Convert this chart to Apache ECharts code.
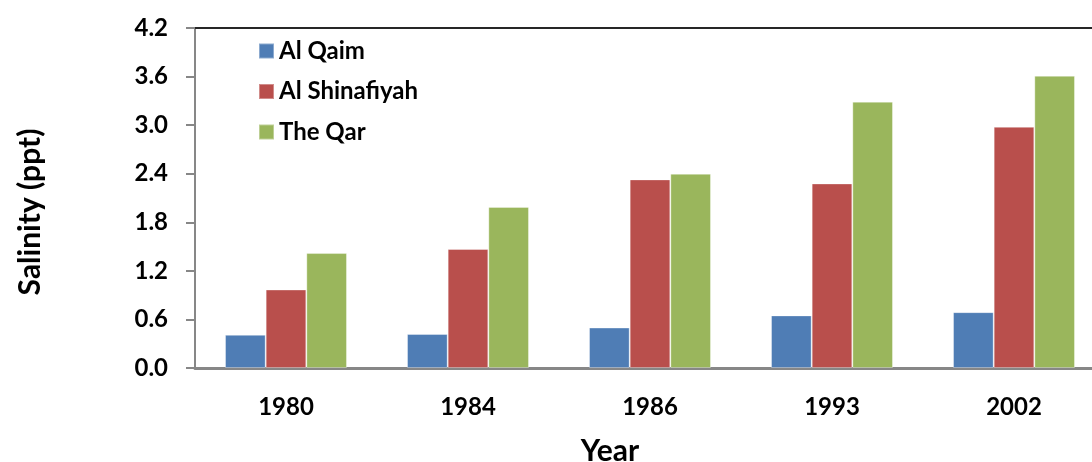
<!DOCTYPE html>
<html>
<head>
<meta charset="utf-8">
<script src="https://cdn.jsdelivr.net/npm/echarts@6/dist/echarts.min.js"></script>
<style>
  html, body { margin: 0; padding: 0; background: #fff; }
  #chart { width: 1092px; height: 462px; }
</style>
</head>
<body>
<div id="chart"></div>
<script>
const years = ['1980', '1984', '1986', '1993', '2002']
const alQaim = [0.41, 0.42, 0.50, 0.65, 0.69]
const alShinafiyah = [0.97, 1.47, 2.33, 2.28, 2.98]
const theQar = [1.42, 1.99, 2.40, 3.29, 3.61]
const yTicks = [0, 0.6, 1.2, 1.8, 2.4, 3.0, 3.6, 4.2]

const font = 'Lato, "Open Sans", sans-serif'
const chart = echarts.init(document.getElementById('chart'))

const bar = (name, data, color) => ({
  name, type: 'bar', data,
  barGap: '0%', barCategoryGap: '33%',
  itemStyle: { color, borderColor: 'rgba(255,255,255,0.35)', borderWidth: 1 }
})

chart.setOption({
  animation: false,
  textStyle: { fontFamily: font },
  grid: { left: 195, top: 28, width: 910, bottom: 94, outerBoundsMode: 'none' },
  legend: {
    orient: 'vertical', left: 253, top: 33,
    itemWidth: 15, itemHeight: 15, itemGap: 14.5,
    icon: 'rect',
    textStyle: { fontFamily: font, fontSize: 24, fontWeight: 'bold', color: '#000', lineHeight: 26 }
  },
  xAxis: [{
    type: 'category',
    data: years,
    name: 'Year',
    nameLocation: 'middle',
    nameGap: 68,
    nameTextStyle: { fontSize: 30, fontWeight: 'bold', color: '#000', padding: [0, 80, 0, 0] },
    axisLine: { lineStyle: { color: '#878787', width: 3 } },
    axisTick: { show: false },
    axisLabel: { fontSize: 24, fontWeight: 'bold', color: '#000', margin: 27 }
  }, {
    type: 'category',
    data: years,
    position: 'top',
    axisLine: { lineStyle: { color: '#262626', width: 2 } },
    axisTick: { show: false },
    axisLabel: { show: false }
  }],
  yAxis: {
    type: 'value',
    min: 0, max: 4.2, interval: 0.6,
    name: 'Salinity (ppt)',
    nameLocation: 'middle',
    nameGap: 150,
    nameTextStyle: { fontSize: 30, fontWeight: 'bold', color: '#000', padding: [0, 28, 0, 0] },
    axisLine: { show: true, lineStyle: { color: '#878787', width: 2 } },
    axisTick: { show: true, length: 9, lineStyle: { color: '#878787', width: 2 } },
    splitLine: { show: false },
    axisLabel: {
      fontSize: 24, fontWeight: 'bold', color: '#000', margin: 27,
      formatter: v => yTicks.includes(Math.round(v * 10) / 10) ? v.toFixed(1) : ''
    }
  },
  series: [
    bar('Al Qaim', alQaim, '#4F7DB5'),
    bar('Al Shinafiyah', alShinafiyah, '#B94F4C'),
    bar('The Qar', theQar, '#9AB65C')
  ]
})
</script>
</body>
</html>
